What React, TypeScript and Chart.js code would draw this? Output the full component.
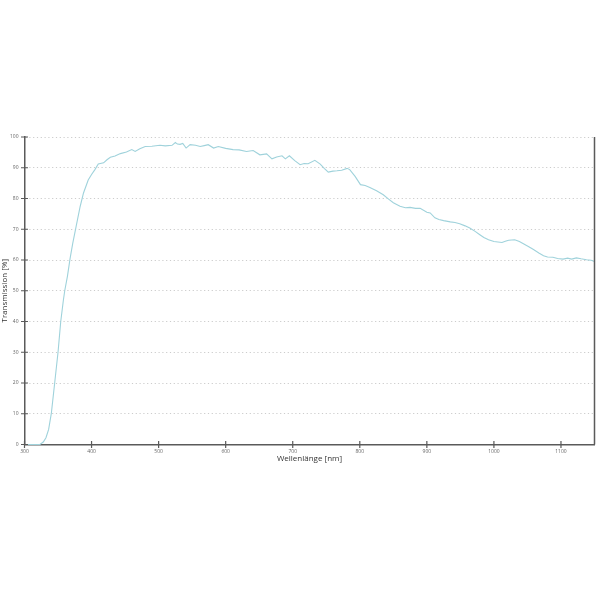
import { useEffect, useRef } from "react"
import { Chart, registerables } from "chart.js"

Chart.register(...registerables)

// wavelength in nm
const wavelengths = [
  300, 310, 320, 323, 328, 332, 336, 340, 345, 350, 354, 358, 360, 364, 368, 372, 377, 383, 388, 395,
  400, 405, 410, 418, 423, 428, 435, 443, 452, 460, 465, 472, 480, 490, 502, 510, 520, 525, 528, 532,
  536, 541, 547, 555, 562, 568, 574, 582, 589, 600, 611, 620, 631, 641, 651, 661, 669, 676, 684, 689,
  695, 703, 711, 717, 723, 733, 741, 747, 753, 760, 766, 773, 781, 785, 793, 801, 808, 815, 825, 835,
  843, 850, 860, 868, 875, 883, 890, 900, 905, 912, 918, 925, 935, 942, 949, 957, 964, 972, 979, 985,
  992, 1000, 1012, 1017, 1022, 1031, 1038, 1044, 1052, 1059, 1067, 1074, 1080, 1088, 1095, 1103, 1110,
  1116, 1123, 1130, 1138, 1145, 1150,
]

// transmission in %
const transmission = [
  0, 0, 0, 0, 0.8, 2.2, 4.9, 10.1, 20, 30, 39.9, 47, 50, 54.7, 60.5, 65.5, 70.9, 77.4, 81.8, 86,
  87.8, 89.4, 91.2, 91.6, 92.6, 93.4, 93.8, 94.6, 95.1, 95.9, 95.3, 96.2, 96.9, 97.0, 97.3, 97.1, 97.3, 98.2, 97.7, 97.6,
  97.9, 96.4, 97.5, 97.3, 96.9, 97.2, 97.5, 96.4, 96.9, 96.3, 95.9, 95.8, 95.3, 95.6, 94.2, 94.5, 92.9, 93.5, 93.9, 92.9,
  93.9, 92.3, 91.0, 91.4, 91.3, 92.4, 91.2, 89.8, 88.6, 88.9, 89.0, 89.2, 89.8, 89.4, 87.2, 84.5, 84.2, 83.6, 82.5, 81.2,
  79.8, 78.6, 77.5, 77.0, 77.1, 76.8, 76.8, 75.5, 75.3, 73.7, 73.2, 72.8, 72.4, 72.2, 71.8, 71.1, 70.4, 69.3, 68.2, 67.3,
  66.6, 66.0, 65.7, 66.1, 66.4, 66.6, 66.0, 65.3, 64.3, 63.4, 62.3, 61.4, 61.0, 60.9, 60.5, 60.3, 60.6,
  60.3, 60.7, 60.4, 60.1, 59.9, 59.5,
]

const axisColor = "#5a5a5a"

// tick marks that cross the axis lines, plus the right frame line
const frame = {
  id: "frame",
  afterDraw(chart: Chart) {
    const { ctx, chartArea, scales } = chart
    ctx.save()
    ctx.strokeStyle = axisColor
    ctx.lineWidth = 1.2
    ctx.beginPath()
    scales.x.ticks.forEach((t) => {
      const px = scales.x.getPixelForValue(t.value)
      ctx.moveTo(px, chartArea.bottom - 3.5)
      ctx.lineTo(px, chartArea.bottom + 3.5)
    })
    scales.y.ticks.forEach((t) => {
      const py = scales.y.getPixelForValue(t.value)
      ctx.moveTo(chartArea.left - 3.5, py)
      ctx.lineTo(chartArea.left + 3.5, py)
    })
    ctx.stroke()
    ctx.lineWidth = 1.5
    ctx.beginPath()
    ctx.moveTo(chartArea.right, chartArea.top)
    ctx.lineTo(chartArea.right, chartArea.bottom)
    ctx.stroke()
    ctx.restore()
  },
}

export default function App() {
  const canvasRef = useRef<HTMLCanvasElement>(null)

  useEffect(() => {
    if (!canvasRef.current) return
    const chart = new Chart(canvasRef.current, {
      type: "line",
      data: {
        datasets: [
          {
            data: wavelengths.map((w, i) => ({ x: w, y: transmission[i] })),
            borderColor: "#9fd2db",
            borderWidth: 1.1,
            pointRadius: 0,
            tension: 0,
            clip: false,
          },
        ],
      },
      options: {
        responsive: false,
        animation: false,
        layout: { padding: { left: 0, top: 137, right: 5.5, bottom: 130 } },
        plugins: { legend: { display: false }, tooltip: { enabled: false } },
        scales: {
          x: {
            type: "linear",
            min: 300,
            max: 1150,
            afterFit: (s) => {
              s.height = 25.5
            },
            ticks: {
              stepSize: 100,
              includeBounds: false,
              padding: 4,
              maxRotation: 0,
              color: "#666",
              font: { family: "Open Sans", size: 5 },
              callback: (v) => String(v),
            },
            grid: { display: false, drawTicks: false },
            border: { display: true, color: axisColor, width: 1.5 },
            title: {
              display: true,
              text: "Wellenlänge [nm]",
              color: "#333",
              font: { family: "Open Sans", size: 8 },
              padding: { top: 0, bottom: 6 },
            },
          },
          y: {
            min: 0,
            max: 100,
            afterFit: (s) => {
              s.width = 24.5
            },
            ticks: {
              stepSize: 10,
              padding: 6,
              color: "#666",
              font: { family: "Open Sans", size: 5 },
              callback: (v) => String(v),
            },
            grid: {
              color: "#cccccc",
              lineWidth: 1,
              drawTicks: false,
            },
            border: { display: true, color: axisColor, width: 1.5, dash: [1.2, 2.6] },
            title: {
              display: true,
              text: "Transmission [%]",
              color: "#333",
              font: { family: "Open Sans", size: 8 },
              padding: 0,
            },
          },
        },
      },
      plugins: [frame],
    })
    return () => chart.destroy()
  }, [])

  return (
    <div style={{ position: "absolute", left: 0, top: 0, width: 600, height: 600, background: "#fff" }}>
      <canvas ref={canvasRef} width={600} height={600} />
    </div>
  )
}
